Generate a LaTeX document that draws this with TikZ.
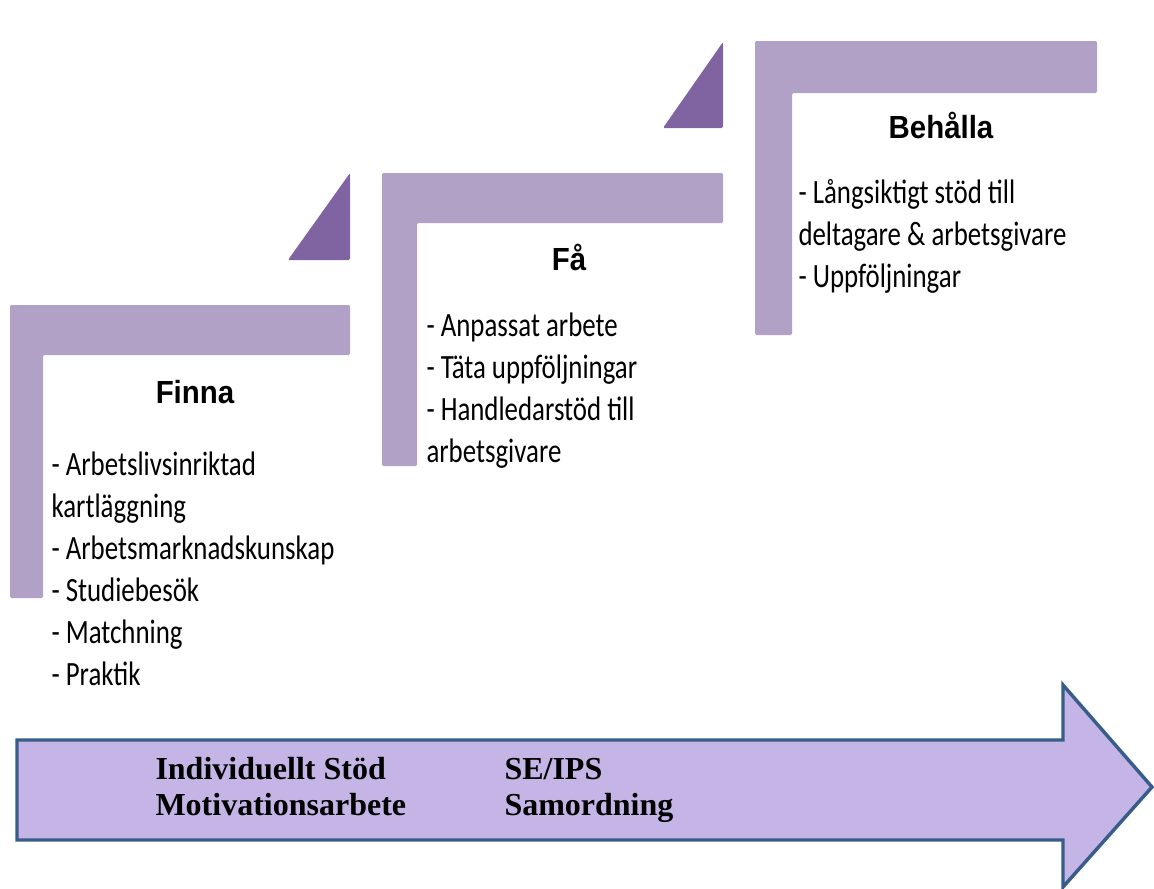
\documentclass[tikz,border=0pt]{standalone}
\usepackage{fontspec}
\newfontfamily\listfont{Carlito}[FakeStretch=0.79]
\newfontfamily\headfont{Liberation Sans}[FakeStretch=0.92]
\newfontfamily\arrowfont{Liberation Serif}

\definecolor{stepfill}{HTML}{B2A1C7}
\definecolor{tripfill}{HTML}{8064A2}
\definecolor{arrowfill}{HTML}{C5B5E7}
\definecolor{arrowline}{HTML}{385D8A}

\tikzset{every picture/.style={line width=0.75pt}}
\tikzset{
  stepbar/.style={fill=stepfill, draw=none, rounded corners=1pt},
  steptri/.style={fill=tripfill, draw=none, rounded corners=1pt},
  steptitle/.style={font=\headfont\bfseries\fontsize{24}{28}\selectfont, anchor=base, inner sep=0.75pt},
  steplist/.style={font=\listfont\fontsize{25.5}{31.5}\selectfont, align=left, anchor=base west, inner sep=0.75pt},
  arrowtext/.style={font=\arrowfont\bfseries\fontsize{24}{27}\selectfont, align=left, anchor=base west, inner sep=0.75pt}
}

\begin{document}
\begin{tikzpicture}[x=0.75pt,y=0.75pt,yscale=-1,xscale=1]
\path[use as bounding box] (0,0) rectangle (1154,889);

%Shape: Step Finna
\draw[stepbar] (10,305) -- (350,305) -- (350,355) -- (43,355) -- (43,598) -- (10,598) -- cycle ;
%Shape: Right Triangle
\draw[steptri] (288,260) -- (350,173) -- (350,260) -- cycle ;
%Shape: Step Fa
\draw[stepbar] (382,173) -- (723,173) -- (723,223) -- (417,223) -- (417,466) -- (382,466) -- cycle ;
%Shape: Right Triangle
\draw[steptri] (663,128) -- (723,42) -- (723,128) -- cycle ;
%Shape: Step Behalla
\draw[stepbar] (755,41) -- (1097,41) -- (1097,93) -- (792,93) -- (792,335) -- (755,335) -- cycle ;

%Shape: Right Arrow
\draw[fill=arrowfill, draw=arrowline, line width=2.6pt, line join=miter] (17,740) -- (1063,740) -- (1063,685) -- (1152,787) -- (1063,887) -- (1063,840) -- (17,840) -- cycle ;

% Text Node (anchor = baseline of last line)
\draw (195,403) node [steptitle] (finna) {Finna};
% Text Node
\draw (50,685) node [steplist] (finnalist) {- Arbetslivsinriktad\\kartläggning\\- Arbetsmarknadskunskap\\- Studiebesök\\- Matchning\\- Praktik};
% Text Node
\draw (569,270) node [steptitle] (fa) {Få};
% Text Node
\draw (425,462) node [steplist] (falist) {- Anpassat arbete\\- Täta uppföljningar\\- Handledarstöd till\\arbetsgivare};
% Text Node
\draw (941,138) node [steptitle] (behalla) {Behålla};
% Text Node
\draw (797,287) node [steplist] (behallalist) {- Långsiktigt stöd till\\deltagare \& arbetsgivare\\- Uppföljningar};
% Text Node
\draw (154,815) node [arrowtext] (stod) {Individuellt Stöd\\Motivationsarbete};
% Text Node
\draw (503,815) node [arrowtext] (seips) {SE/IPS\\Samordning};

\end{tikzpicture}
\end{document}
